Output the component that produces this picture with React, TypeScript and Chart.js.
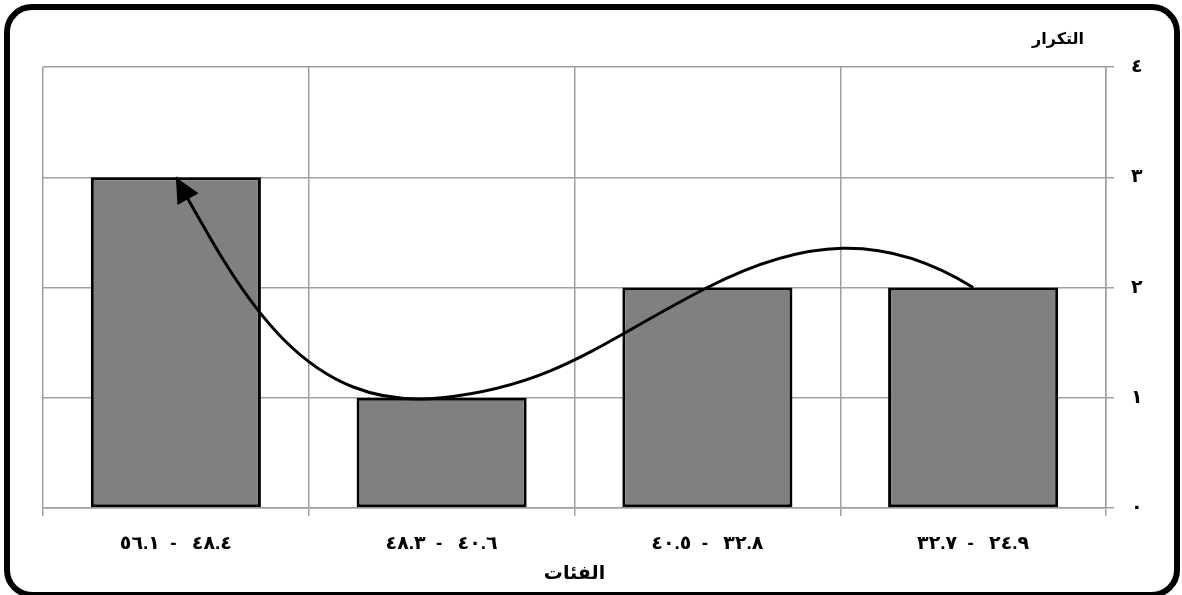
import React, { useEffect, useRef } from 'react';
import { Chart, registerables } from 'chart.js';

Chart.register(...registerables);

// ---- data ----
const categories = ['٢٤.٩ - ٣٢.٧', '٣٢.٨ - ٤٠.٥', '٤٠.٦ - ٤٨.٣', '٤٨.٤ - ٥٦.١'];
const frequencies = [2, 2, 1, 3];
const yTickLabels = ['٠', '١', '٢', '٣', '٤'];
const xTitle = 'الفئات';
const yTitle = 'التكرار';

// ---- curve style (tangent direction at each point, degrees, screen space) ----
const curveTangentDeg = [-148, 153, 174, -119];
const curveHandleRatio = 0.4;

const FONT = "'Liberation Sans', 'DejaVu Sans', Arial, sans-serif";
const GRID = '#a0a0a0';

const dirOf = (i: number) => {
  const a = (curveTangentDeg[i] * Math.PI) / 180;
  return [Math.cos(a), Math.sin(a)];
};

const curvePlugin = {
  id: 'curveShape',
  beforeDatasetDraw(chart: any, args: any) {
    const meta = args.meta;
    if (meta.type !== 'line') return;
    const pts = meta.data;
    for (let i = 0; i < pts.length; i++) {
      const p = pts[i];
      const prev = pts[i - 1];
      const next = pts[i + 1];
      const [ux, uy] = dirOf(i);
      if (prev) {
        const L = Math.hypot(p.x - prev.x, p.y - prev.y) * curveHandleRatio;
        p.cp1x = p.x - ux * L;
        p.cp1y = p.y - uy * L;
      } else {
        p.cp1x = p.x;
        p.cp1y = p.y;
      }
      if (next) {
        const L = Math.hypot(next.x - p.x, next.y - p.y) * curveHandleRatio;
        p.cp2x = p.x + ux * L;
        p.cp2y = p.y + uy * L;
      } else {
        p.cp2x = p.x;
        p.cp2y = p.y;
      }
    }
    meta.dataset._pointsUpdated = true;
  },
  afterDatasetDraw(chart: any, args: any) {
    const meta = args.meta;
    if (meta.type !== 'line') return;
    const pts = meta.data;
    const last = pts[pts.length - 1];
    const [ux, uy] = dirOf(pts.length - 1);
    const len = 25;
    const hw = 12;
    const bx = last.x - ux * len;
    const by = last.y - uy * len;
    const ctx = chart.ctx;
    ctx.save();
    ctx.fillStyle = '#000';
    ctx.beginPath();
    ctx.moveTo(last.x, last.y);
    ctx.lineTo(bx - uy * hw, by + ux * hw);
    ctx.lineTo(bx + uy * hw, by - ux * hw);
    ctx.closePath();
    ctx.fill();
    ctx.restore();
  },
};

const textPlugin = {
  id: 'textStyle',
  beforeDraw(chart: any) {
    chart.ctx.letterSpacing = '5px';
  },
  afterDraw(chart: any) {
    const { ctx, chartArea } = chart;
    ctx.save();
    ctx.letterSpacing = '0px';
    ctx.fillStyle = '#000';
    ctx.textBaseline = 'middle';
    ctx.font = `bold 16px ${FONT}`;
    ctx.textAlign = 'right';
    ctx.fillText(yTitle, chartArea.right - 22, chartArea.top - 27);
    ctx.font = `bold 19px ${FONT}`;
    ctx.textAlign = 'center';
    ctx.fillText(xTitle, (chartArea.left + chartArea.right) / 2, chartArea.bottom + 66);
    ctx.restore();
  },
};

export default function App() {
  const ref = useRef<HTMLCanvasElement | null>(null);

  useEffect(() => {
    if (!ref.current) return;
    const chart = new Chart(ref.current, {
      type: 'bar',
      data: {
        labels: categories,
        datasets: [
          {
            type: 'line',
            data: frequencies,
            borderColor: '#000',
            borderWidth: 3,
            pointRadius: 0,
            pointHoverRadius: 0,
            tension: 0.4,
            fill: false,
            order: 0,
            clip: false,
          } as any,
          {
            type: 'bar',
            data: frequencies,
            backgroundColor: '#808080',
            borderColor: '#000',
            borderWidth: 3,
            borderSkipped: false,
            categoryPercentage: 1,
            barPercentage: 0.64,
            order: 1,
          } as any,
        ],
      },
      options: {
        animation: false,
        responsive: false,
        maintainAspectRatio: false,
        layout: { padding: { left: 43, top: 67, right: 0, bottom: 14 } },
        plugins: {
          legend: { display: false },
          tooltip: { enabled: false },
        },
        scales: {
          x: {
            reverse: true,
            offset: true,
            grid: { offset: true, color: GRID, lineWidth: 1.5, tickLength: 8, drawTicks: true },
            border: { color: GRID, width: 1.5 },
            ticks: {
              color: '#000',
              font: { family: FONT, size: 19, weight: 'bold' },
              padding: 16,
              maxRotation: 0,
              autoSkip: false,
            },
            title: { display: false, text: xTitle },
            afterFit: (s: any) => {
              s.height = 73;
            },
          },
          y: {
            position: 'right',
            min: 0,
            max: 4,
            grid: { color: GRID, lineWidth: 1.5, tickLength: 8, drawTicks: true },
            border: { color: GRID, width: 1.5 },
            ticks: {
              stepSize: 1,
              color: '#000',
              font: { family: FONT, size: 19, weight: 'bold' },
              padding: 17,
              callback: (v: any) => yTickLabels[Number(v)] ?? '',
            },
            afterFit: (s: any) => {
              s.width = 76;
            },
          },
        },
      } as any,
      plugins: [curvePlugin, textPlugin],
    });
    return () => chart.destroy();
  }, []);

  return (
    <div
      style={{
        position: 'absolute',
        left: 0,
        top: 0,
        width: 1182,
        height: 595,
        overflow: 'hidden',
        background: '#fff',
      }}
    >
      <canvas
        ref={ref}
        width={1182}
        height={595}
        style={{ position: 'absolute', left: 0, top: 0, width: 1182, height: 595 }}
      />
      <div
        style={{
          position: 'absolute',
          left: 4,
          top: 4,
          width: 1176,
          height: 594,
          boxSizing: 'border-box',
          border: '6px solid #000',
          borderRadius: 28,
          pointerEvents: 'none',
        }}
      />
    </div>
  );
}
